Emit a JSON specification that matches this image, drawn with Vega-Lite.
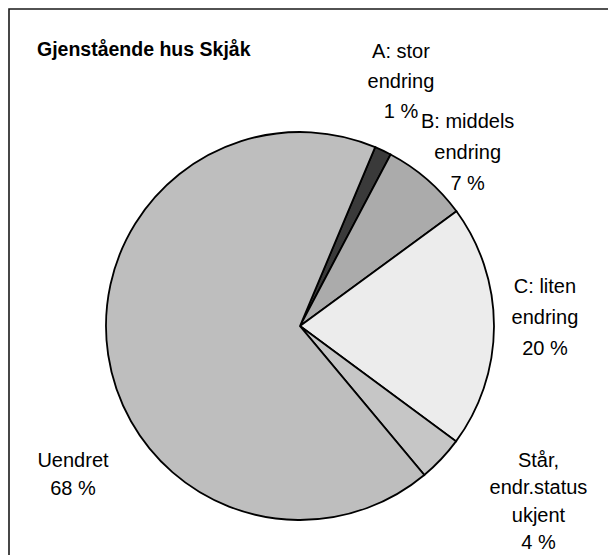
{
  "$schema": "https://vega.github.io/schema/vega-lite/v6.json",
  "autosize": "none",
  "width": 610,
  "height": 560,
  "padding": {"left": 9, "top": 9, "right": 0, "bottom": 0},
  "background": "white",
  "config": {
    "view": {"stroke": "#1a1a1a", "strokeWidth": 1.6},
    "font": "Liberation Sans"
  },
  "title": {
    "text": "Gjenstående hus Skjåk",
    "anchor": "start",
    "frame": "group",
    "orient": "top",
    "offset": -66,
    "baseline": "alphabetic",
    "dx": 28,
    "font": "Liberation Sans",
    "fontSize": 19.5,
    "fontWeight": "bold",
    "color": "#000000"
  },
  "data": {
    "values": [
      {"i": 1, "cat": "A", "value": 1.4, "label": "A: stor\nendring\n1 %"},
      {"i": 2, "cat": "B", "value": 7.2, "label": "B: middels\nendring\n7 %"},
      {"i": 3, "cat": "C", "value": 20.2, "label": "C: liten\nendring\n20 %"},
      {"i": 4, "cat": "Står", "value": 3.8, "label": "Står,\nendr.status\nukjent\n4 %"},
      {"i": 5, "cat": "Uendret", "value": 67.4, "label": "Uendret\n68 %"}
    ]
  },
  "encoding": {
    "theta": {"field": "value", "type": "quantitative", "stack": true, "scale": {"range": [0.398, 6.681]}},
    "order": {"field": "i", "type": "quantitative"},
    "x": {"value": 291},
    "y": {"value": 317}
  },
  "layer": [
    {
      "mark": {"type": "arc", "radius": 194, "stroke": "#000000", "strokeWidth": 1.8},
      "encoding": {
        "fill": {
          "field": "cat",
          "type": "nominal",
          "scale": {"domain": ["A", "B", "C", "Står", "Uendret"], "range": ["#3a3a3a", "#ababab", "#ececec", "#c6c6c6", "#bebebe"]},
          "legend": null
        }
      }
    },
    {
      "mark": {"type": "text", "align": "center", "baseline": "middle", "lineBreak": "\n", "lineHeight": 30, "fontSize": 20, "font": "Liberation Sans", "color": "#000000", "thetaOffset": -0.089, "radius": 292},
      "encoding": {
        "text": {"condition": {"test": "datum.cat == 'A'", "field": "label"}, "value": ""}
      }
    },
    {
      "mark": {"type": "text", "align": "center", "baseline": "middle", "lineBreak": "\n", "lineHeight": 31, "fontSize": 20, "font": "Liberation Sans", "color": "#000000", "thetaOffset": -0.024, "radius": 264},
      "encoding": {
        "text": {"condition": {"test": "datum.cat == 'B'", "field": "label"}, "value": ""}
      }
    },
    {
      "mark": {"type": "text", "align": "center", "baseline": "middle", "lineBreak": "\n", "lineHeight": 31, "fontSize": 20, "font": "Liberation Sans", "color": "#000000", "thetaOffset": -0.159, "radius": 248},
      "encoding": {
        "text": {"condition": {"test": "datum.cat == 'C'", "field": "label"}, "value": ""}
      }
    },
    {
      "mark": {"type": "text", "align": "center", "baseline": "middle", "lineBreak": "\n", "lineHeight": 27.5, "fontSize": 20, "font": "Liberation Sans", "color": "#000000", "thetaOffset": -0.241, "radius": 274},
      "encoding": {
        "text": {"condition": {"test": "datum.cat == 'Står'", "field": "label"}, "value": ""}
      }
    },
    {
      "mark": {"type": "text", "align": "center", "baseline": "middle", "lineBreak": "\n", "lineHeight": 28, "fontSize": 20, "font": "Liberation Sans", "color": "#000000", "thetaOffset": -0.387, "radius": 264},
      "encoding": {
        "text": {"condition": {"test": "datum.cat == 'Uendret'", "field": "label"}, "value": ""}
      }
    }
  ]
}
